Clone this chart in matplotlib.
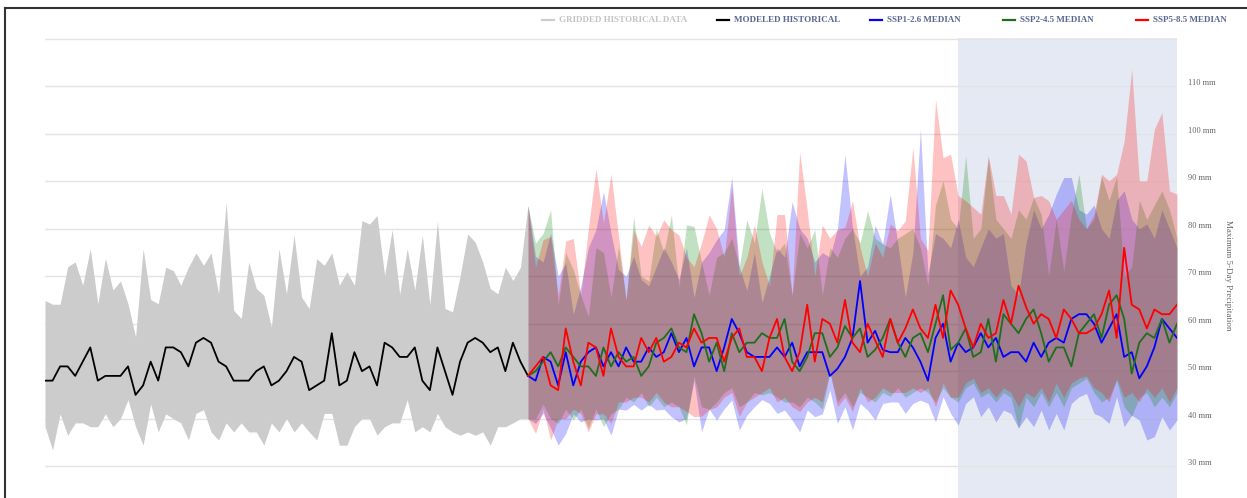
import numpy as np
import matplotlib.pyplot as plt
from matplotlib.lines import Line2D
from matplotlib.transforms import ScaledTranslation

plt.rcParams['font.family'] = ['Liberation Serif', 'DejaVu Serif']

W, H, DPI = 1247, 498, 100

# --- historical period (1950-2014) ---
years_hist = np.arange(1950, 2015)
modeled_hist = [48, 48, 51, 51, 49, 52, 55, 48, 49, 49,
                49, 51, 45, 47, 52, 48, 55, 55, 54, 51,
                56, 57, 56, 52, 51, 48, 48, 48, 50, 51,
                47, 48, 50, 53, 52, 46, 47, 48, 58, 47,
                48, 54, 50, 51, 47, 56, 55, 53, 53, 55,
                48, 46, 55, 50, 45, 52, 56, 57, 56, 54,
                55, 50, 56, 52, 49]
gridded_hi = [64.9, 64.1, 64.1, 72.0, 73.0, 68.1, 75.8, 64.2, 73.8, 67.1,
              69.0, 64.2, 57.2, 75.8, 65.1, 64.2, 71.9, 71.2, 68.1, 71.9,
              74.9, 72.3, 74.9, 66.3, 85.6, 62.8, 61.1, 73.0, 67.4, 66.0,
              59.3, 75.8, 66.3, 78.7, 65.6, 63.2, 73.7, 72.3, 74.9, 68.1,
              70.9, 68.1, 81.7, 81.0, 82.8, 70.2, 79.8, 66.2, 75.8, 67.1,
              78.7, 64.0, 81.6, 63.2, 62.5, 70.0, 78.9, 77.2, 73.0, 67.4,
              66.3, 71.9, 69.1, 71.9, 84.9]
gridded_lo = [38.3, 33.4, 41.0, 36.5, 39.1, 39.1, 38.3, 38.3, 41.0, 38.3,
              40.0, 44.0, 38.3, 34.4, 43.1, 37.2, 41.0, 40.0, 39.1, 35.5,
              41.1, 41.9, 37.2, 35.5, 39.1, 37.2, 39.1, 37.2, 37.2, 34.4,
              39.1, 37.2, 40.0, 37.2, 39.1, 37.2, 35.5, 41.1, 41.1, 34.4,
              34.4, 38.3, 40.0, 40.0, 36.5, 38.3, 39.1, 39.1, 44.0, 37.2,
              38.3, 37.2, 41.1, 38.3, 37.2, 36.5, 37.2, 36.5, 37.2, 34.4,
              38.3, 38.3, 39.1, 40.0, 40.0]

# --- projections (2014-2100) ---
years_proj = np.arange(2014, 2101)

ssp126_med = [49, 48, 53, 52, 47, 54, 47, 52, 54, 55,
              51, 54, 51, 55, 52, 52, 55, 53, 54, 58,
              54, 57, 51, 55, 55, 50, 55, 61, 58, 54,
              53, 53, 53, 55, 53, 56, 51, 54, 54, 54,
              49, 50.5, 53, 57, 69, 56, 58.5, 54.5, 54, 54,
              57, 55, 52, 48, 57, 60, 52, 56, 54, 55,
              58, 55, 57, 53, 54, 54, 52, 56, 53, 56,
              57, 56, 61, 62, 62, 60, 56, 59, 62, 53,
              54, 48.5, 51, 55, 61, 59, 57]
ssp245_med = [49, 50, 52, 54, 51, 55, 53, 51, 51, 49,
              55, 51, 54, 52, 53, 49, 51, 56, 57, 59,
              55, 54, 62, 58, 52, 56, 50, 58, 54, 56,
              56, 58, 57, 57, 61, 52, 50, 53, 58, 58,
              53, 55, 59.5, 57, 59, 53, 54.5, 57, 61, 56,
              53, 57, 58, 54, 60, 66, 54.5, 56, 59, 53,
              54, 61, 52, 62, 60, 58, 61, 63, 58, 52,
              55, 55, 51, 58, 60, 62, 57, 64, 66, 61,
              49.5, 56, 58, 57, 61, 56, 60]
ssp585_med = [49, 51, 53, 47, 46, 59, 52, 47, 56, 55,
              49, 59, 53, 51, 51, 57, 54, 57, 52, 53,
              56, 55, 59, 56, 57, 57, 52, 57, 59, 53,
              53, 50, 57, 61, 53, 50, 54, 64, 52, 61,
              60, 56, 65, 56, 54, 60, 56.5, 53, 61, 56,
              59, 63, 59, 57, 64, 57, 67, 64, 59, 55,
              60, 57, 58, 65, 60, 68, 63.5, 60, 62, 61,
              57, 63, 61, 58, 58, 59, 62, 67, 57, 76,
              64, 63, 59, 63, 62, 62, 64]

ssp126_hi = [84.9, 74.2, 73, 79.1, 70, 72.8, 62, 67.9, 76, 79.8,
             87.8, 79.1, 71.4, 70, 74.2, 69.3, 68, 72, 76, 73,
             69.3, 76, 65.5, 73, 75, 77.7, 79.8, 90.9, 72, 67,
             75, 64.5, 70, 76, 74, 85.7, 80, 78, 73, 75,
             74, 80, 95.6, 80.3, 70, 72, 80.7, 76.8, 87.3, 77,
             65.6, 75, 101, 70.5, 79, 78, 76, 82, 74, 72,
             76, 80, 78, 79, 68, 66, 77, 84, 80, 83,
             87.3, 90.8, 90.8, 84, 83.1, 85, 80, 78, 86, 88,
             82, 80, 81, 78, 84, 80, 76]
ssp245_hi = [84.9, 77, 79, 84, 64, 74.9, 71.4, 66, 61.5, 76,
             75, 65.6, 76.3, 65, 82.6, 70, 69, 80, 75, 82.9,
             67.7, 80.8, 80.5, 73, 66, 74, 75, 78, 72, 81.9,
             77, 88.5, 79.1, 75, 77, 66, 79, 76, 79.8, 66,
             76, 74, 78, 80, 77, 83.8, 78, 76.8, 76, 78,
             79, 80, 76, 68, 85, 90.1, 82, 80, 95.4, 78,
             80, 95, 82, 80, 78, 84, 82, 86.6, 83, 70,
             82, 71, 83, 91.5, 80, 82, 91, 86, 91, 70,
             72, 86, 82, 85, 88, 84, 78]
ssp585_hi = [84.9, 72, 77.7, 78.4, 66, 77.4, 78, 66, 80, 92.7,
             81.2, 91.6, 78.4, 65, 79.8, 76.3, 80.8, 78.4, 81.9, 79.8,
             78.7, 74, 72, 77, 82.9, 80, 74, 88.9, 70, 74,
             80.8, 73, 68, 83, 83, 66, 96.2, 84, 70, 80.8,
             78, 79.8, 80.3, 85.9, 76.1, 70, 77, 74, 81, 79.6,
             81.7, 97.1, 78, 75.4, 107.3, 95, 95.7, 87, 85.9, 84.5,
             83.1, 95.4, 87, 87, 83.1, 95.7, 94.3, 86.6, 87, 85.9,
             82, 84, 86, 82, 80, 83, 91.5, 90.1, 91.5, 98.5,
             113.6, 90.1, 90.1, 101, 104.5, 88, 87.3]

ssp126_lo = [40, 39, 41.1, 38, 34.4, 36.9, 41, 39.3, 40, 39.7,
             40, 36.5, 42, 41.8, 43, 41.8, 43, 41.8, 42, 40.4,
             39.3, 40, 48, 37.2, 42, 39.7, 42.1, 43.9, 37.6, 40.7,
             42.5, 44, 43.2, 41.1, 41.8, 39.7, 37.2, 41.8, 40.4, 41,
             46, 39, 42.5, 37.6, 43.2, 41.8, 39.7, 43.2, 43.5, 43.5,
             41.1, 43.2, 43.9, 43.2, 39.3, 44.6, 41.1, 38.6, 43.2, 44.6,
             40.4, 42.5, 39.3, 41.8, 41.1, 38, 40.4, 38.3, 41.8, 37.6,
             41.1, 37.6, 43.2, 44.6, 45.3, 41.1, 40.4, 39, 44.6, 38.3,
             40.7, 39.7, 35.5, 36.2, 40.4, 37.6, 39.7]
ssp245_lo = [40, 40, 43, 40, 39, 42, 39.7, 42, 38, 42,
             38.3, 41, 42, 44.5, 43.5, 45.5, 42.5, 44.5, 42.5, 43.5,
             42.5, 38.7, 49, 42.5, 42, 43.5, 45.5, 46.5, 42.5, 43.5,
             45.5, 45, 45.5, 44.5, 43.5, 43.5, 42.5, 44.5, 43.5, 42,
             49.5, 43.5, 45.5, 42.5, 45.5, 44.5, 43.5, 45.5, 44.7, 46.5,
             44.5, 45.5, 46.5, 45.5, 43.5, 46.5, 44.5, 43.5, 46.5, 47.5,
             44.5, 45.5, 43.5, 45.5, 44.5, 38, 44.5, 42.5, 45.5, 42.5,
             45.5, 42.5, 46.5, 47.5, 48.5, 45.5, 43.5, 44.5, 48, 42.5,
             40.5, 44.5, 45.5, 42.5, 44.5, 42.5, 45.5]
ssp585_lo = [40, 36.9, 42, 35.5, 40, 40, 42, 41, 37.2, 41,
             41, 39, 43.5, 43.5, 44.5, 44.5, 43.5, 45.5, 43.5, 42.5,
             42.5, 41.5, 40.4, 40.5, 41.9, 42.5, 44.5, 45.5, 40.5, 43.5,
             44.5, 45.5, 46.5, 43.5, 44.5, 42.5, 41.5, 43.5, 44.5, 43.5,
             50, 42.5, 44.5, 41.5, 46.5, 43.5, 44.5, 46.5, 45.5, 45.5,
             45.5, 46.5, 45.5, 46.5, 42.5, 47.5, 44.5, 44.5, 47.5, 48.5,
             45.5, 46.5, 44.5, 46.5, 45.5, 42.5, 45.5, 44.5, 46.5, 43.5,
             47.5, 44.5, 47.5, 48.5, 49, 46.5, 45.5, 43.5, 48.5, 44.5,
             45.5, 43.5, 46.5, 44.5, 46.5, 43.5, 46.5]

end_century = (2071, 2100)

legend_items = [
    ('GRIDDED HISTORICAL DATA', '#cccccc', '#c4c4c4'),
    ('MODELED HISTORICAL', '#000000', '#5a6790'),
    ('SSP1-2.6 MEDIAN', '#0000ff', '#5a6790'),
    ('SSP2-4.5 MEDIAN', '#1e6e1e', '#5a6790'),
    ('SSP5-8.5 MEDIAN', '#ff0000', '#5a6790'),
]
legend_x = [542, 717, 870, 1003, 1136]

fig = plt.figure(figsize=(W / DPI, H / DPI), dpi=DPI)
ax = fig.add_axes([45 / W, 0, (1177 - 45) / W, (498 - 38) / H])

ax.axvspan(*end_century, color='#e5e9f3', lw=0, zorder=0)

ax.fill_between(years_hist, gridded_lo, gridded_hi, color='#cccccc', lw=0, zorder=1)
ax.fill_between(years_proj, ssp126_lo, ssp126_hi, color=(0, 0, 1, 0.24), lw=0, zorder=2)
ax.fill_between(years_proj, ssp245_lo, ssp245_hi, color=(0, 0.5, 0, 0.24), lw=0, zorder=2)
ax.fill_between(years_proj, ssp585_lo, ssp585_hi, color=(1, 0, 0, 0.24), lw=0, zorder=2)

ax.plot(years_hist, modeled_hist, color='#000000', lw=1.3, zorder=4)
ax.plot(years_proj, ssp126_med, color='#0000ff', lw=1.3, zorder=4)
ax.plot(years_proj, ssp245_med, color='#1e6e1e', lw=1.3, zorder=4)
ax.plot(years_proj, ssp585_med, color='#ff0000', lw=1.3, zorder=4)

ax.set_xlim(1950, 2100)
ax.set_ylim(30 - 32 / 4.756, 120.2)
ax.set_xticks([])

ticks = list(range(30, 121, 10))
ax.set_yticks(ticks)
ax.set_yticklabels([f'{t} mm' for t in ticks[:-1]] + [''])
ax.yaxis.tick_right()
ax.tick_params(axis='y', length=0, pad=8, labelsize=6, labelcolor='#666666')
ax.grid(axis='y', color='#e4e4e4', lw=1, zorder=0.5)
ax.set_axisbelow(True)
lift = ScaledTranslation(0, 4 / DPI, fig.dpi_scale_trans)
for tick in ax.yaxis.get_major_ticks():
    tick.label2.set_transform(tick.label2.get_transform() + lift)
for s in ax.spines.values():
    s.set_visible(False)

fig.text(1228 / W, 1 - 275 / H, 'Maximum 5-Day Precipitation', rotation=270,
         ha='center', va='center', fontsize=6.5, color='#666666')

# legend row across the top
for (label, line_c, text_c), x0 in zip(legend_items, legend_x):
    y = 1 - 20 / H
    fig.add_artist(Line2D([x0 / W, (x0 + 12) / W], [y, y], color=line_c, lw=1.6))
    fig.text((x0 + 17) / W, y, label, ha='left', va='center', fontsize=6.5,
             fontweight='bold', color=text_c)

# frame around the panel
fig.add_artist(Line2D([5 / W, 5 / W], [0, 1 - 8 / H], color='#333333', lw=1.5))
fig.add_artist(Line2D([5 / W, 1], [1 - 8 / H, 1 - 8 / H], color='#333333', lw=1.5))

fig.savefig('out.png', dpi=DPI)
